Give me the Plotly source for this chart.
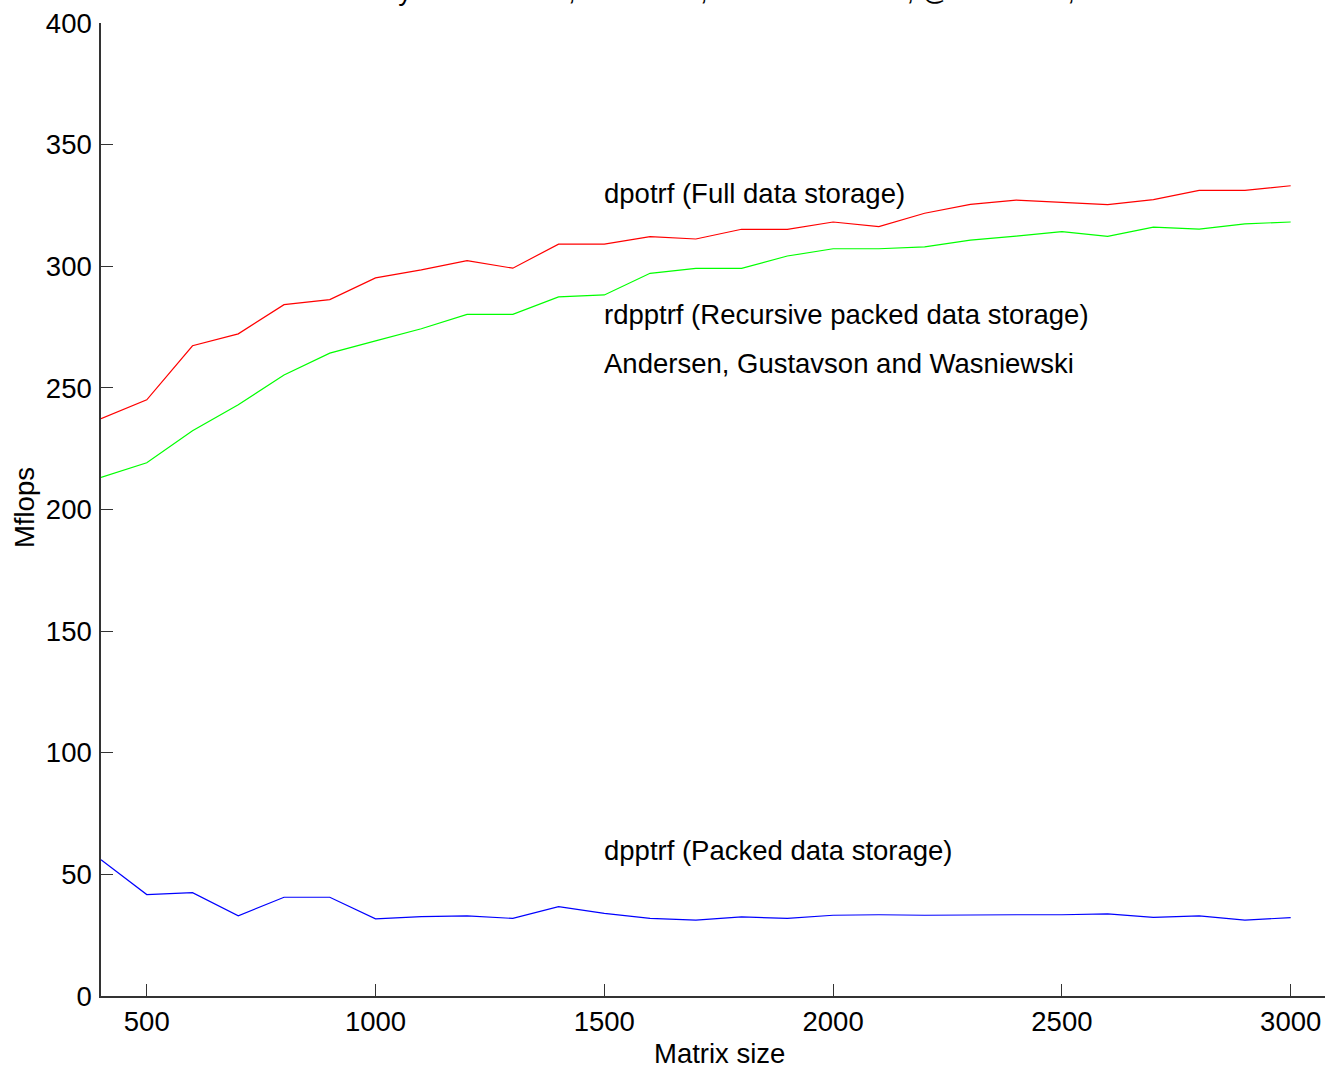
import plotly.graph_objects as go

matrix_size = [400, 500, 600, 700, 800, 900, 1000, 1100, 1200, 1300, 1400, 1500, 1600, 1700,
               1800, 1900, 2000, 2100, 2200, 2300, 2400, 2500, 2600, 2700, 2800, 2900, 3000]

dpotrf = [237.3, 245.1, 267.3, 272.2, 284.2, 286.3, 295.2, 298.5, 302.3, 299.2, 309.1, 309.1,
          312.2, 311.2, 315.2, 315.2, 318.2, 316.3, 321.8, 325.4, 327.2, 326.3, 325.3, 327.4,
          331.2, 331.2, 333.1]

rdpptrf = [213.2, 219.2, 232.4, 243.1, 255.3, 264.3, 269.3, 274.3, 280.2, 280.2, 287.4, 288.2,
           297.1, 299.1, 299.1, 304.2, 307.2, 307.2, 308.0, 310.7, 312.4, 314.2, 312.3, 316.1,
           315.3, 317.4, 318.2]

dpptrf = [56.0, 41.7, 42.5, 33.0, 40.6, 40.6, 31.7, 32.6, 32.9, 31.9, 36.7, 34.0, 31.9, 31.2,
          32.5, 31.9, 33.2, 33.4, 33.2, 33.4, 33.4, 33.4, 33.8, 32.3, 32.9, 31.2, 32.2]

labels = ["dpotrf (Full data storage)",
          "rdpptrf (Recursive packed data storage)",
          "Andersen, Gustavson and Wasniewski",
          "dpptrf (Packed data storage)"]
label_x = [1500, 1500, 1500, 1500]
label_y = [330, 280, 260, 60]

title_text = "Cholesky factorization, UPLO='L', Intel Pentium III, @ 500 MHz, Atlas"
x_ticks = [500, 1000, 1500, 2000, 2500, 3000]
y_ticks = [0, 50, 100, 150, 200, 250, 300, 350, 400]

FONT = "Liberation Sans, Arial, Helvetica, sans-serif"
FS = 27.5

fig = go.Figure()
fig.add_trace(go.Scatter(x=matrix_size, y=dpotrf, mode="lines", name="dpotrf",
                         line=dict(color="#ff0000", width=1.2)))
fig.add_trace(go.Scatter(x=matrix_size, y=rdpptrf, mode="lines", name="rdpptrf",
                         line=dict(color="#00ff00", width=1.2)))
fig.add_trace(go.Scatter(x=matrix_size, y=dpptrf, mode="lines", name="dpptrf",
                         line=dict(color="#0000ff", width=1.2)))

for t, xx, yy in zip(labels, label_x, label_y):
    fig.add_annotation(x=xx, y=yy, text=t, showarrow=False, xanchor="left", yanchor="middle",
                       xshift=-2, font=dict(family=FONT, size=FS, color="black"))

fig.add_annotation(x=0.506, y=1.033, xref="paper", yref="paper", text=title_text, showarrow=False,
                   xanchor="center", yanchor="middle", font=dict(family=FONT, size=FS, color="black"))
fig.add_annotation(x=0.505, y=-0.059, xref="paper", yref="paper", text="Matrix size", showarrow=False,
                   xanchor="center", yanchor="middle", font=dict(family=FONT, size=FS, color="black"))
fig.add_annotation(x=-0.0625, y=0.502, xref="paper", yref="paper", text="Mflops", showarrow=False,
                   textangle=-90, xanchor="center", yanchor="middle",
                   font=dict(family=FONT, size=FS, color="black"))

fig.update_layout(
    width=1325, height=1068,
    margin=dict(l=101, r=0, t=23, b=72),
    paper_bgcolor="white", plot_bgcolor="white",
    showlegend=False,
    font=dict(family=FONT, size=FS, color="black"),
)
fig.update_xaxes(range=[400, 3075], tickvals=x_ticks, ticks="inside", ticklen=12, tickwidth=1,
                 tickcolor="#333", showline=True, linecolor="#333", linewidth=1.5, showgrid=False,
                 zeroline=False, tickfont=dict(size=FS, color="black"), ticklabelstandoff=0)
fig.update_yaxes(range=[0, 400], tickvals=y_ticks, ticks="inside", ticklen=12, tickwidth=1,
                 tickcolor="#333", showline=True, linecolor="#333", linewidth=1.5, showgrid=False,
                 zeroline=False, tickfont=dict(size=FS, color="black"), ticklabelstandoff=2)

fig.write_html("out.html")
